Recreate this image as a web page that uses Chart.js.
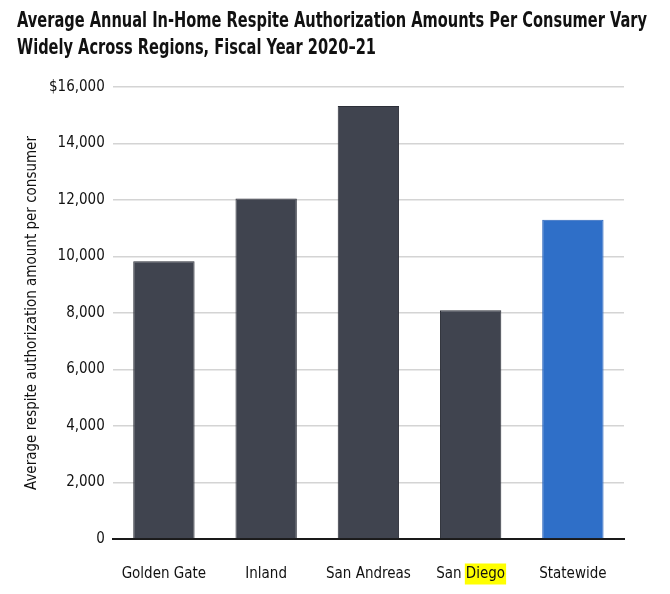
<!DOCTYPE html>
<html>
<head>
<meta charset="utf-8">
<script src="https://cdn.jsdelivr.net/npm/chart.js@4.4.0/dist/chart.umd.min.js"></script>
<style>
  html, body { margin: 0; padding: 0; background: #fff; }
  #wrap { width: 670px; height: 594px; }
</style>
</head>
<body>
<div id="wrap"><canvas id="chart" width="670" height="594"></canvas></div>
<script>
/* ============ Data ============ */
const TITLE = [
    "Average Annual In-Home Respite Authorization Amounts Per Consumer Vary",
    "Widely Across Regions, Fiscal Year 2020\u201321"
];
const Y_LABEL = "Average respite authorization amount per consumer";
const REGIONS = ["Golden Gate", "Inland", "San Andreas", "San Diego", "Statewide"];
const AMOUNTS = [9830, 12050, 15330, 8100, 11300];
const HIGHLIGHT_INDEX = 3;      // which label carries the yellow mark
const HIGHLIGHT_WORD = "Diego";

const FONT = "'DejaVu Sans Condensed', 'Liberation Sans Narrow', sans-serif";
const TICK_SIZE = 15;
const DARK = "#40444f";
const BLUE = "#2f6fc8";

/* ============ Condensed two-line title ============ */
const titlePlugin = {
    id: "condensedTitle",
    afterDraw(chart) {
        const ctx = chart.ctx;
        ctx.save();
        ctx.font = "bold 21px " + FONT;
        ctx.fillStyle = "#111";
        ctx.textBaseline = "alphabetic";
        // squeeze so the first line spans the same width as the original
        const sx = Math.min(1, 630 / ctx.measureText(TITLE[0]).width);
        TITLE.forEach((line, i) => {
            ctx.save();
            ctx.translate(17, 27 + i * 27);
            ctx.scale(sx, 1);
            ctx.fillText(line, 0, 0);
            ctx.restore();
        });
        ctx.restore();
    }
};

/* ============ Yellow highlight behind one tick label ============ */
const highlightPlugin = {
    id: "labelHighlight",
    afterDraw(chart) {
        const xs = chart.scales.x;
        const ctx = chart.ctx;
        const label = REGIONS[HIGHLIGHT_INDEX];
        const pre = label.slice(0, label.indexOf(HIGHLIGHT_WORD));
        ctx.save();
        ctx.font = TICK_SIZE + "px " + FONT;
        const full = ctx.measureText(label).width;
        const preW = ctx.measureText(pre).width;
        const wordW = ctx.measureText(HIGHLIGHT_WORD).width;
        const cx = xs.getPixelForTick(HIGHLIGHT_INDEX);
        const left = cx - full / 2 + preW;
        const opts = xs.options;
        const cy = xs.top + opts.grid.tickLength + opts.ticks.padding + TICK_SIZE * 0.6;
        ctx.globalCompositeOperation = "destination-over";
        ctx.fillStyle = "#ffff00";
        ctx.fillRect(left - 1, cy - 10.5, wordW + 2, 21);
        ctx.restore();
    }
};

new Chart(document.getElementById("chart"), {
    type: "bar",
    data: {
        labels: REGIONS,
        datasets: [{
            data: AMOUNTS,
            backgroundColor: REGIONS.map((r, i) => i === REGIONS.length - 1 ? BLUE : DARK),
            borderColor: REGIONS.map((r, i) => i === REGIONS.length - 1 ? "#2a63bb" : "#2c2f38"),
            borderWidth: 1,
            borderSkipped: "bottom",
            categoryPercentage: 1,
            barPercentage: 0.6
        }]
    },
    options: {
        responsive: false,
        animation: false,
        layout: {padding: {left: 18, right: 46, top: 87, bottom: 0}},
        plugins: {
            legend: {display: false},
            tooltip: {enabled: false},
            title: {display: false}
        },
        scales: {
            x: {
                grid: {display: false, drawTicks: true, tickLength: 15},
                border: {display: true, color: "#1a1a1a", width: 2},
                ticks: {color: "#111", font: {family: FONT, size: TICK_SIZE}, padding: 11}
            },
            y: {
                min: 0,
                max: 16000,
                ticks: {
                    stepSize: 2000,
                    color: "#111",
                    font: {family: FONT, size: TICK_SIZE},
                    padding: 8,
                    callback: v => (v === 16000 ? "$" : "") + v.toLocaleString("en-US")
                },
                grid: {color: "#d4d4d4", lineWidth: 1.5, drawTicks: false},
                border: {display: false},
                title: {
                    display: true,
                    text: Y_LABEL,
                    color: "#111",
                    font: {family: FONT, size: TICK_SIZE},
                    padding: {top: 5, bottom: 0}
                }
            }
        }
    },
    plugins: [titlePlugin, highlightPlugin]
});
</script>
</body>
</html>
